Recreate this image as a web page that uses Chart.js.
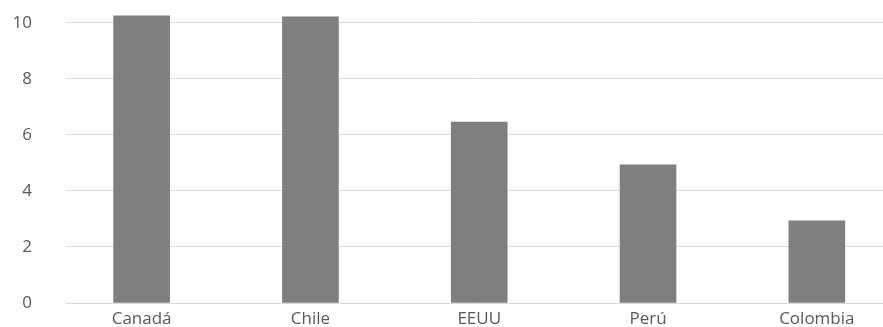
<!DOCTYPE html>
<html>
<head>
<meta charset="utf-8">
<script src="https://cdn.jsdelivr.net/npm/chart.js@4"></script>
<style>
  html, body { margin: 0; padding: 0; background: #ffffff; overflow: hidden; }
  canvas { display: block; }
</style>
</head>
<body>
<canvas id="chart" width="883" height="327"></canvas>
<script>
// Countries and their values
const categories = ['Canadá', 'Chile', 'EEUU', 'Perú', 'Colombia'];
const values = [10.25, 10.21, 6.46, 4.93, 2.93];
const yTicks = [0, 2, 4, 6, 8, 10];

const labelFont = { family: '"Open Sans", sans-serif', size: 17 };
const labelColor = '#595959';

new Chart(document.getElementById('chart'), {
  type: 'bar',
  data: {
    datasets: [{
      data: values.map((v, i) => ({ x: i, y: v })),
      backgroundColor: '#7f7f7f',
      borderWidth: 0,
      barThickness: 56
    }]
  },
  options: {
    responsive: false,
    animation: false,
    layout: { padding: { top: 6, right: 0, bottom: 0, left: 0 } },
    plugins: { legend: { display: false }, tooltip: { enabled: false } },
    scales: {
      x: {
        type: 'linear',
        offset: false,
        bounds: 'data',
        min: -0.448,
        max: 4.392,
        grid: { display: false, drawTicks: false },
        border: { display: false },
        // one tick per country, labelled with its name
        afterBuildTicks: s => { s.ticks = categories.map((_, i) => ({ value: i })); },
        afterFit: s => { s.height = 24; s.paddingLeft = 0; s.paddingRight = 0; },
        ticks: {
          autoSkip: false,
          maxRotation: 0,
          padding: 6,
          font: labelFont,
          color: labelColor,
          callback: v => categories[v]
        }
      },
      y: {
        min: 0,
        max: 10.6,
        grid: { color: '#d9d9d9', lineWidth: 1, drawTicks: false },
        border: { display: false },
        afterBuildTicks: s => { s.ticks = yTicks.map(v => ({ value: v })); },
        afterFit: s => { s.width = 66; s.paddingTop = 0; s.paddingBottom = 0; },
        ticks: {
          padding: 34,
          font: labelFont,
          color: labelColor
        }
      }
    }
  }
});
</script>
</body>
</html>
